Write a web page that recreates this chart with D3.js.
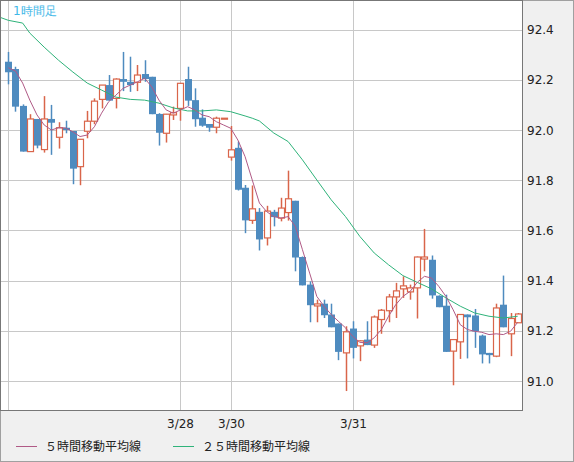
<!DOCTYPE html>
<html><head><meta charset="utf-8">
<script src="https://cdn.jsdelivr.net/npm/d3@7"></script>
<style>body{margin:0;background:#f0f0f0}svg{display:block;font-family:"DejaVu Sans",sans-serif}</style>
</head><body><svg id="c" width="574" height="462"></svg>
<script>
const opens=[92.272,92.243,92.096,91.914,92.044,91.922,92.044,91.971,92.009,91.996,91.854,91.995,92.035,92.122,92.179,92.126,92.203,92.192,92.190,92.223,92.212,92.064,91.987,92.060,92.086,92.203,92.119,92.049,92.024,92.011,92.047,91.892,91.929,91.770,91.640,91.674,91.570,91.674,91.649,91.671,91.718,91.494,91.384,91.299,91.308,91.265,91.229,91.112,91.209,91.140,91.165,91.143,91.245,91.280,91.335,91.367,91.355,91.371,91.486,91.483,91.340,91.300,91.119,91.156,91.265,91.261,91.181,91.112,91.099,91.304,91.188,91.232];
const highs=[92.311,92.252,92.102,92.063,92.044,92.135,92.100,92.031,92.037,91.996,91.963,92.076,92.126,92.179,92.219,92.206,92.311,92.292,92.259,92.278,92.212,92.067,92.064,92.093,92.186,92.252,92.166,92.082,92.024,92.053,92.047,92.016,91.954,91.781,91.779,91.689,91.698,91.682,91.730,91.838,91.718,91.496,91.397,91.324,91.324,91.308,91.229,91.218,91.238,91.162,91.238,91.261,91.287,91.347,91.391,91.417,91.384,91.496,91.606,91.500,91.341,91.344,91.165,91.265,91.265,91.287,91.185,91.112,91.308,91.420,91.271,91.271];
const lows=[92.182,92.073,91.914,91.914,91.927,91.910,91.901,91.926,91.987,91.784,91.780,91.967,92.023,92.086,92.117,92.086,92.155,92.152,92.155,92.192,92.063,91.938,91.950,92.040,92.037,92.096,92.013,92.013,91.993,91.987,92.047,91.878,91.759,91.589,91.626,91.520,91.540,91.616,91.636,91.639,91.437,91.381,91.234,91.234,91.251,91.214,91.083,90.960,91.090,91.079,91.143,91.132,91.188,91.234,91.251,91.331,91.324,91.249,91.437,91.328,91.294,91.116,90.983,91.088,91.090,91.132,91.070,91.070,91.095,91.214,91.099,91.232];
const closes=[92.230,92.093,91.914,92.044,91.938,92.044,92.029,92.009,92.000,91.846,91.963,92.035,92.115,92.179,92.117,92.203,92.192,92.179,92.219,92.203,92.063,91.989,92.063,92.069,92.186,92.117,92.043,92.017,92.009,92.047,92.047,91.921,91.762,91.640,91.686,91.564,91.677,91.653,91.689,91.726,91.492,91.381,91.302,91.307,91.262,91.214,91.116,91.196,91.132,91.160,91.143,91.255,91.282,91.335,91.359,91.379,91.371,91.494,91.494,91.341,91.294,91.116,91.165,91.265,91.254,91.198,91.106,91.103,91.291,91.214,91.249,91.267];
const ma5=[92.248,92.235,92.187,92.119,92.060,92.020,92.000,92.009,92.008,91.993,91.974,91.980,92.013,92.067,92.113,92.139,92.166,92.179,92.192,92.206,92.172,92.119,92.080,92.067,92.080,92.093,92.080,92.060,92.053,92.033,92.020,92.007,91.960,91.894,91.801,91.709,91.675,91.655,91.649,91.655,91.616,91.523,91.430,91.337,91.298,91.265,91.238,91.212,91.178,91.154,91.152,91.172,91.205,91.258,91.304,91.337,91.357,91.393,91.417,91.410,91.377,91.337,91.284,91.224,91.205,91.198,91.194,91.185,91.188,91.185,91.198,91.234];
const ma25Idx=[-1.16,0,2,3,5,7,9,11,13,15,17,19,21,23,25,27,29,31,33,34,35,37,39,41,43,45,47,49,51,53,55,57,59,61,63,65,67,69,71];
const ma25=[92.449,92.437,92.426,92.386,92.330,92.278,92.231,92.187,92.159,92.131,92.122,92.119,92.107,92.088,92.076,92.076,92.080,92.073,92.056,92.047,92.036,91.988,91.954,91.881,91.801,91.722,91.655,91.576,91.510,91.463,91.420,91.393,91.367,91.331,91.298,91.271,91.258,91.251,91.258];
const yTicks=[91.0,91.2,91.4,91.6,91.8,92.0,92.2,92.4];
const xTickIdx=[0,24,31,48];
const xTickLabels=["","3/28","3/30","3/31"];

const svg=d3.select("#c");
const W=522,H=410;
const x=d3.scaleLinear().domain([0,71]).range([8.3,517.7]);
const y=d3.scaleLinear().domain([91.0,92.0]).range([381,130]);
svg.append("rect").attr("x",0.5).attr("y",0.5).attr("width",573).attr("height",461).attr("fill","#f0f0f0").attr("stroke","#a0a0a0");
svg.append("rect").attr("x",0).attr("y",0).attr("width",W).attr("height",H).attr("fill","#fff");
const g=svg.append("g");
yTicks.forEach(v=>{g.append("line").attr("x1",0).attr("x2",W).attr("y1",Math.round(y(v))+.5).attr("y2",Math.round(y(v))+.5).attr("stroke","#c8c8c8");
 svg.append("text").attr("x",527).attr("y",y(v)+4.5).attr("font-size",12).attr("fill","#222").text(v.toFixed(1));});
xTickIdx.forEach((t,k)=>{const xx=Math.round(x(t))+.5;g.append("line").attr("x1",xx).attr("x2",xx).attr("y1",0).attr("y2",H).attr("stroke","#c8c8c8");
 svg.append("text").attr("x",xx).attr("y",428).attr("text-anchor","middle").attr("font-size",12).attr("fill","#222").text(xTickLabels[k]);});
const bw=6;
opens.forEach((o,i)=>{const c=closes[i],up=c>=o,col=up?"#d9654a":"#4e8bbf",xx=Math.round(x(i))+.5;
 g.append("line").attr("x1",xx).attr("x2",xx).attr("y1",y(highs[i])).attr("y2",y(lows[i])).attr("stroke",col).attr("stroke-width",1.5);
 const t=y(Math.max(o,c)),b=y(Math.min(o,c));
 if(up) g.append("rect").attr("x",xx-bw/2).attr("y",t).attr("width",bw).attr("height",Math.max(b-t,1)).attr("fill","#fff").attr("stroke",col).attr("stroke-width",1.2);
 else g.append("rect").attr("x",xx-bw/2-0.5).attr("y",t).attr("width",bw+1).attr("height",Math.max(b-t,1.5)).attr("fill",col);
});
const line=d3.line().x(d=>x(d[0])).y(d=>y(d[1]));
g.append("path").attr("d",line(ma25Idx.map((t,i)=>[t,ma25[i]]))).attr("fill","none").attr("stroke","#2fb37a").attr("stroke-width",1);
g.append("path").attr("d",line(ma5.map((v,i)=>[i,v]))).attr("fill","none").attr("stroke","#b05a86").attr("stroke-width",1);
svg.append("rect").attr("x",0.5).attr("y",0.5).attr("width",W).attr("height",H).attr("fill","none").attr("stroke","#777");
svg.append("text").attr("x",13).attr("y",15).attr("font-size",12).attr("fill","#3fb8e8").text("1時間足");
const lg=[["５時間移動平均線","#b05a86",16],["２５時間移動平均線","#2fb37a",173]];
lg.forEach(([t,c,lx])=>{svg.append("line").attr("x1",lx).attr("x2",lx+21).attr("y1",446.5).attr("y2",446.5).attr("stroke",c);
 svg.append("text").attr("x",lx+29).attr("y",451).attr("font-size",12).attr("font-family","Noto Sans CJK JP").attr("fill","#222").text(t);});
</script></body></html>
